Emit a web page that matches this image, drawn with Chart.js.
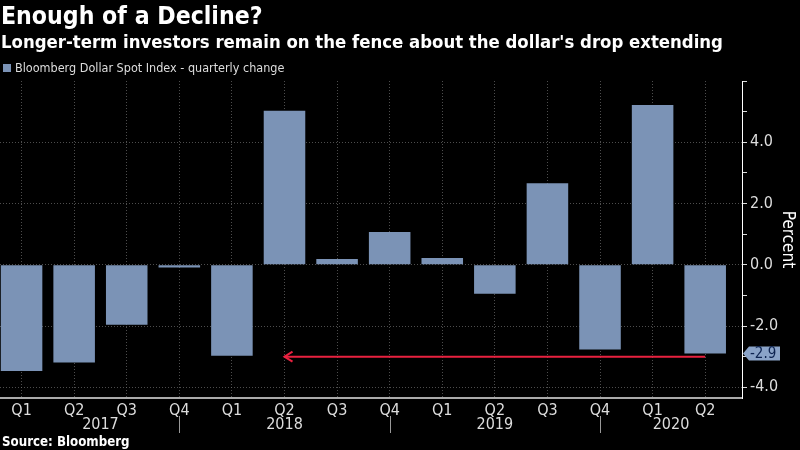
<!DOCTYPE html>
<html><head><meta charset="utf-8">
<script src="https://cdn.jsdelivr.net/npm/chart.js@4.4.1/dist/chart.umd.min.js"></script>
<style>
html,body{margin:0;padding:0;background:#000;}
#wrap{position:relative;width:800px;height:450px;overflow:hidden;background:#000;font-family:"Liberation Sans Narrow","DejaVu Sans Condensed",sans-serif;}
#c{position:absolute;left:0;top:0;width:800px;height:450px;}
.t{position:absolute;white-space:nowrap;color:#fff;line-height:1;}
#title{left:1px;top:4px;font-size:24.6px;font-weight:bold;}
#sub{left:1px;top:33px;font-size:18.4px;font-weight:bold;}
#leg{left:3px;top:62px;font-size:12.5px;color:#ddd;}
#leg .sw{display:inline-block;width:8px;height:8px;background:#7b93b6;margin-right:4px;vertical-align:0px;}
#src{left:2px;top:435px;font-size:13.2px;font-weight:bold;}
</style></head>
<body><div id="wrap">
<canvas id="c" width="800" height="450"></canvas>
<div class="t" id="title">Enough of a Decline?</div>
<div class="t" id="sub">Longer-term investors remain on the fence about the dollar's drop extending</div>
<div class="t" id="leg"><span class="sw"></span>Bloomberg Dollar Spot Index - quarterly change</div>
<div class="t" id="src">Source: Bloomberg</div>
</div>
<script>
const quarters = ['Q1','Q2','Q3','Q4','Q1','Q2','Q3','Q4','Q1','Q2','Q3','Q4','Q1','Q2'];
const changes = [-3.47,-3.19,-1.96,-0.09,-2.97,5.03,0.19,1.07,0.22,-0.95,2.66,-2.77,5.22,-2.9];
const years = ['2017','2018','2019','2020'];
const yearCenters = [1.5,5,9,12.35];
const yearBreaks = [3,7,11];
const yTicks = [-4,-3,-2,-1,0,1,2,3,4,5,6];
const arrowFrom = 13, arrowTo = 5, arrowLevel = -3.0;
const lastLabel = '-2.9';

const FONT = '"Liberation Sans Narrow","DejaVu Sans Condensed",sans-serif';
const BAR = '#7b93b6';

const extras = {
  id:'extras',
  afterDatasetsDraw(chart){
    const ctx = chart.ctx, xs = chart.scales.x, ys = chart.scales.y;
    const y = ys.getPixelForValue(arrowLevel);
    const x1 = xs.getPixelForValue(arrowFrom), x2 = xs.getPixelForValue(arrowTo);
    ctx.save();
    ctx.strokeStyle = '#e8213f'; ctx.lineWidth = 2;
    ctx.beginPath(); ctx.moveTo(x1,y); ctx.lineTo(x2,y); ctx.stroke();
    ctx.beginPath(); ctx.moveTo(x2+8,y-5); ctx.lineTo(x2,y); ctx.lineTo(x2+8,y+5); ctx.stroke();
    ctx.restore();
  },
  afterDraw(chart){
    const ctx = chart.ctx, xs = chart.scales.x, ys = chart.scales.y;
    ctx.save();
    ctx.strokeStyle = '#999'; ctx.lineWidth = 1;
    yearBreaks.forEach(b=>{
      const x = Math.round(xs.getPixelForValue(b))+0.5;
      ctx.beginPath(); ctx.moveTo(x,416); ctx.lineTo(x,433); ctx.stroke();
    });
    ctx.fillStyle = '#ddd'; ctx.font = '16px '+FONT; ctx.textAlign='center'; ctx.textBaseline='middle';
    years.forEach((t,i)=>ctx.fillText(t, xs.getPixelForValue(yearCenters[i]), 425));
    const v = changes[changes.length-1];
    const ty = ys.getPixelForValue(v);
    const ax = chart.chartArea.right + 1;
    ctx.fillStyle = '#8aa3c8';
    ctx.beginPath();
    ctx.moveTo(ax, ty); ctx.lineTo(ax+6, ty-7); ctx.lineTo(ax+37, ty-7); ctx.lineTo(ax+37, ty+7); ctx.lineTo(ax+6, ty+7); ctx.closePath(); ctx.fill();
    ctx.fillStyle = '#0d2350'; ctx.font = '15px '+FONT; ctx.textAlign='left';
    ctx.fillText(lastLabel, ax+7, ty+0.5);
    ctx.restore();
  }
};

new Chart(document.getElementById('c'), {
  type:'bar',
  data:{ datasets:[{ label:'Bloomberg Dollar Spot Index - quarterly change',
    data: changes.map((v,i)=>({x:i,y:v})), backgroundColor: BAR, borderWidth:0,
    barPercentage:0.79, categoryPercentage:1 }]},
  options:{
    responsive:false, animation:false, devicePixelRatio:1,
    layout:{padding:{top:81,left:0,right:0,bottom:0}},
    plugins:{legend:{display:false}, tooltip:{enabled:false}},
    scales:{
      x:{ type:'linear', min:-0.41, max:13.7, offset:false,
        afterBuildTicks:s=>{ s.ticks = quarters.map((q,i)=>({value:i})); },
        afterFit:s=>{ s.height = 52; },
        ticks:{ callback:v=>quarters[v]||'', color:'#ddd', font:{family:FONT,size:16}, padding:3, autoSkip:false, maxRotation:0 },
        grid:{ color:'rgba(110,110,110,0.7)', drawTicks:false, lineWidth:1, offset:false },
        border:{ color:'#aaa', width:2, dash:[1,2] }
      },
      y:{ position:'right', min:-4.35, max:6,
        afterBuildTicks:s=>{ s.ticks = yTicks.map(v=>({value:v})); },
        afterFit:s=>{ s.width = 58; },
        ticks:{ callback:v=>(v%2===0 && v<6)? v.toFixed(1):'', color:'#ddd', font:{family:FONT,size:16}, padding:3 },
        grid:{ color:c=>{ const v=c.tick&&c.tick.value; return (v%2===0 && v<6)?'rgba(110,110,110,0.7)':'rgba(0,0,0,0)'; }, tickColor:'#ddd', tickLength:5, drawTicks:true },
        border:{ color:'#fff', width:1, dash:[1,2] },
        title:{ display:true, text:'Percent', color:'#fff', font:{family:FONT,size:17}, padding:{top:2,bottom:4} }
      }
    }
  },
  plugins:[extras]
});
</script>
</body></html>
